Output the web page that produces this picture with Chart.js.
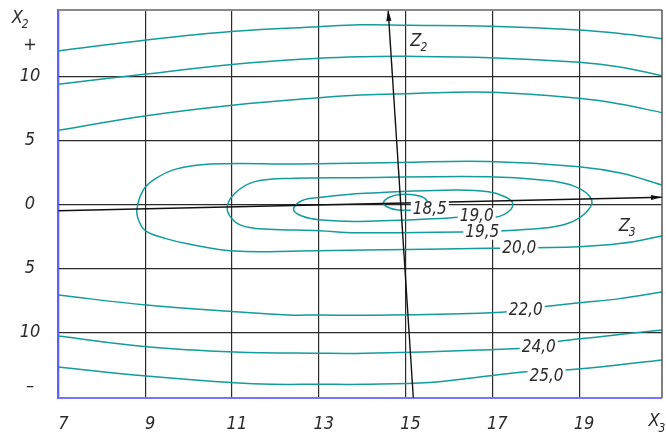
<!DOCTYPE html>
<html>
<head>
<meta charset="utf-8">
<script src="https://cdn.jsdelivr.net/npm/chart.js@4.4.1/dist/chart.umd.min.js"></script>
<style>
  html, body { margin: 0; padding: 0; background: #fff; }
  canvas { display: block; }
</style>
</head>
<body>
<canvas id="chart" width="666" height="436"></canvas>
<script>
/* global Chart */

// --- axes ---
const xTickValues = [7, 9, 11, 13, 15, 17, 19];
const xTickLabels = ['7', '9', '11', '13', '15', '17', '19'];
const yTickValues = [-14.2, -10, -5, 0, 5, 10, 12.4];
const yTickLabels = ['–', '10', '5', '0', '5', '10', '+'];
const yLabelOnly = [-14.2, 12.4];   // sign marks, no grid line

// --- level lines (x3, x2) ---
const c1X = [7.00, 9.03, 11.06, 13.01, 13.95, 15.03, 16.95, 19.00, 19.94, 20.91];
const c1Y = [11.98, 12.84, 13.52, 13.88, 14.02, 13.99, 13.91, 13.62, 13.34, 12.94];
const c2X = [7.00, 9.03, 11.06, 13.01, 13.95, 15.03, 16.95, 19.00, 19.94, 20.91];
const c2Y = [9.38, 10.18, 10.94, 11.41, 11.53, 11.56, 11.45, 11.09, 10.73, 10.05];
const c3X = [7.00, 9.03, 11.06, 13.01, 13.95, 15.03, 16.95, 19.00, 19.94, 20.91];
const c3Y = [5.78, 6.92, 7.76, 8.33, 8.54, 8.64, 8.75, 8.28, 7.83, 7.16];

const c185X = [15.40, 14.83, 14.58, 14.49, 14.64, 14.88, 15.22, 15.45, 15.50, 15.40];
const c185Y = [-0.40, -0.45, -0.21, 0.13, 0.57, 0.77, 0.73, 0.45, 0.00, -0.40];
const c190X = [16.64, 17.06, 17.37, 17.47, 17.29, 16.91, 16.14, 14.07, 13.07, 12.61, 12.42, 12.61, 13.07, 13.96, 15.91, 16.64];
const c190Y = [-0.91, -1.02, -0.58, 0.08, 0.59, 0.98, 1.12, 0.86, 0.55, 0.28, -0.39, -0.91, -1.23, -1.34, -1.09, -0.91];
const c195X = [16.76, 18.14, 18.75, 19.14, 19.29, 18.91, 18.14, 16.91, 13.84, 12.45, 11.53, 11.07, 10.89, 11.07, 11.38, 11.84, 13.01, 13.84, 16.76];
const c195Y = [-2.14, -1.88, -1.48, -0.70, 0.34, 1.38, 1.90, 2.16, 2.08, 2.03, 1.77, 0.86, -0.31, -1.36, -1.80, -1.95, -2.06, -2.22, -2.14];
const c200X = [20.91, 19.98, 19.00, 16.91, 14.87, 12.57, 10.50, 9.69, 9.23, 8.96, 8.81, 8.88, 9.04, 9.46, 10.00, 11.06, 12.57, 14.07, 16.91, 19.00, 19.98, 20.91];
const c200Y = [1.51, 2.42, 2.94, 3.34, 3.27, 3.15, 3.15, 2.73, 1.98, 1.12, -0.45, -1.48, -2.14, -2.66, -3.10, -3.65, -3.65, -3.57, -3.44, -3.31, -3.05, -2.48];

const c220X = [7.00, 9.03, 11.06, 12.30, 13.01, 14.07, 16.71, 17.77, 18.18, 19.02, 19.94, 20.91];
const c220Y = [-7.09, -7.87, -8.39, -8.65, -8.65, -8.67, -8.52, -8.26, -8.00, -7.69, -7.37, -6.85];
const c240X = [7.00, 9.03, 11.06, 13.01, 14.07, 16.71, 18.07, 18.48, 19.48, 20.91];
const c240Y = [-10.29, -11.13, -11.54, -11.64, -11.64, -11.38, -11.13, -10.73, -10.34, -9.82];
const c250X = [7.00, 9.03, 11.06, 11.92, 13.01, 14.07, 15.56, 16.71, 17.87, 18.68, 19.48, 20.91];
const c250Y = [-12.71, -13.41, -13.94, -14.06, -14.06, -14.06, -13.92, -13.49, -13.06, -12.95, -12.71, -12.16];

// --- level labels ---
const levelLabels = ['18,5', '19,0', '19,5', '20,0', '22,0', '24,0', '25,0'];
const levelLabelX = [15.56, 16.64, 16.77, 17.62, 17.77, 18.07, 18.25];
const levelLabelY = [-0.37, -0.91, -2.14, -3.38, -8.23, -11.13, -13.36];

// --- rotated axes Z2, Z3 (last point = arrow tip) ---
const z2X = [15.18, 14.60];
const z2Y = [-15.11, 15.18];
const z3X = [7.00, 20.91];
const z3Y = [-0.50, 0.55];
const zNames = ['2', '3'];
const zNameX = [15.24, 20.04];
const zNameY = [12.76, -1.70];

const FONT = "'Liberation Sans Narrow', 'DejaVu Sans Condensed', 'Liberation Sans', sans-serif";
const TEAL = '#139c9a';
const INK  = '#2a2a2a';

const pts = (xs, ys) => xs.map((x, i) => ({ x, y: ys[i] }));

function level(xs, ys) {
  return {
    data: pts(xs, ys),
    showLine: true,
    borderColor: TEAL,
    borderWidth: 1.5,
    pointRadius: 0,
    tension: 0.4,
    fill: false,
  };
}

function axisLine(xs, ys) {
  return {
    data: pts(xs, ys),
    showLine: true,
    borderColor: '#111',
    borderWidth: 1.4,
    pointRadius: 0,
    tension: 0,
    fill: false,
  };
}

function subText(ctx, main, sub, px, py) {
  ctx.font = `italic 18px ${FONT}`;
  ctx.textAlign = 'center';
  ctx.textBaseline = 'middle';
  ctx.fillText(main, px, py);
  const w = ctx.measureText(main).width;
  ctx.font = `italic 12px ${FONT}`;
  ctx.textAlign = 'left';
  ctx.fillText(sub, px + w / 2 - 1, py + 7);
}

function arrowHead(ctx, x0, y0, x1, y1) {
  const ang = Math.atan2(y1 - y0, x1 - x0);
  const len = 11, half = 2.6;
  ctx.beginPath();
  ctx.moveTo(x1, y1);
  ctx.lineTo(x1 - len * Math.cos(ang) + half * Math.sin(ang), y1 - len * Math.sin(ang) - half * Math.cos(ang));
  ctx.lineTo(x1 - len * Math.cos(ang) - half * Math.sin(ang), y1 - len * Math.sin(ang) + half * Math.cos(ang));
  ctx.closePath();
  ctx.fill();
}

const overlay = {
  id: 'overlay',
  afterDatasetsDraw(chart) {
    const { ctx, chartArea: a, scales: { x, y } } = chart;
    ctx.save();

    // frame: top and right
    ctx.strokeStyle = '#8a8a8a';
    ctx.lineWidth = 2;
    ctx.beginPath();
    ctx.moveTo(a.left, a.top);
    ctx.lineTo(a.right, a.top);
    ctx.stroke();
    ctx.strokeStyle = '#555';
    ctx.lineWidth = 1.5;
    ctx.beginPath();
    ctx.moveTo(a.right, a.top);
    ctx.lineTo(a.right, a.bottom);
    ctx.stroke();

    // level labels on white
    ctx.font = `italic 17px ${FONT}`;
    ctx.textAlign = 'center';
    ctx.textBaseline = 'middle';
    levelLabels.forEach((t, i) => {
      const px = x.getPixelForValue(levelLabelX[i]);
      const py = y.getPixelForValue(levelLabelY[i]);
      const w = ctx.measureText(t).width + 4;
      ctx.fillStyle = '#fff';
      ctx.fillRect(px - w / 2, py - 8, w, 16);
      ctx.fillStyle = INK;
      ctx.fillText(t, px, py + 1);
    });

    // arrow tips
    ctx.fillStyle = '#111';
    [[z2X, z2Y], [z3X, z3Y]].forEach(([xs, ys]) => {
      const n = xs.length - 1;
      arrowHead(ctx,
        x.getPixelForValue(xs[n - 1]), y.getPixelForValue(ys[n - 1]),
        x.getPixelForValue(xs[n]), y.getPixelForValue(ys[n]));
    });

    // Z names
    ctx.fillStyle = INK;
    zNames.forEach((s, i) => {
      subText(ctx, 'Z', s, x.getPixelForValue(zNameX[i]), y.getPixelForValue(zNameY[i]));
    });

    // axis names
    subText(ctx, 'X', '2', a.left - 41, a.top + 8);
    subText(ctx, 'X', '3', a.right - 8, a.bottom + 24);

    ctx.restore();
  },
};

new Chart(document.getElementById('chart'), {
  type: 'scatter',
  data: {
    datasets: [
      axisLine(z2X, z2Y),
      axisLine(z3X, z3Y),
      level(c1X, c1Y),
      level(c2X, c2Y),
      level(c3X, c3Y),
      level(c185X, c185Y),
      level(c190X, c190Y),
      level(c195X, c195Y),
      level(c200X, c200Y),
      level(c220X, c220Y),
      level(c240X, c240Y),
      level(c250X, c250Y),
    ],
  },
  options: {
    responsive: false,
    animation: false,
    layout: { padding: { top: 10, right: 4, left: 0, bottom: 0 } },
    plugins: {
      legend: { display: false },
      tooltip: { enabled: false },
    },
    scales: {
      x: {
        type: 'linear',
        min: 7,
        max: 20.91,
        afterFit: (s) => { s.height = 38.3; s.paddingLeft = 0; s.paddingRight = 0; },
        afterBuildTicks: (s) => { s.ticks = xTickValues.map((v) => ({ value: v })); },
        grid: { color: '#2b2b2b', lineWidth: 1.2, drawTicks: false },
        border: { color: '#7474ff', width: 2 },
        ticks: {
          autoSkip: false,
          maxRotation: 0,
          padding: 18,
          labelOffset: 5,
          color: INK,
          font: { family: FONT, size: 18, style: 'italic', lineHeight: 1 },
          callback: (v, i) => xTickLabels[i],
        },
      },
      y: {
        type: 'linear',
        min: -15.11,
        max: 15.18,
        afterFit: (s) => { s.width = 58.3; s.paddingTop = 0; s.paddingBottom = 0; },
        afterBuildTicks: (s) => { s.ticks = yTickValues.map((v) => ({ value: v })); },
        grid: {
          drawTicks: false,
          lineWidth: 1.2,
          color: (c) => (c.tick && yLabelOnly.includes(c.tick.value) ? 'rgba(0,0,0,0)' : '#2b2b2b'),
        },
        border: { color: '#6060ff', width: 2 },
        ticks: {
          autoSkip: false,
          crossAlign: 'center',
          padding: 18,
          color: INK,
          font: { family: FONT, size: 18, style: 'italic', lineHeight: 1 },
          callback: (v, i) => yTickLabels[i],
        },
      },
    },
  },
  plugins: [overlay],
});
</script>
</body>
</html>
